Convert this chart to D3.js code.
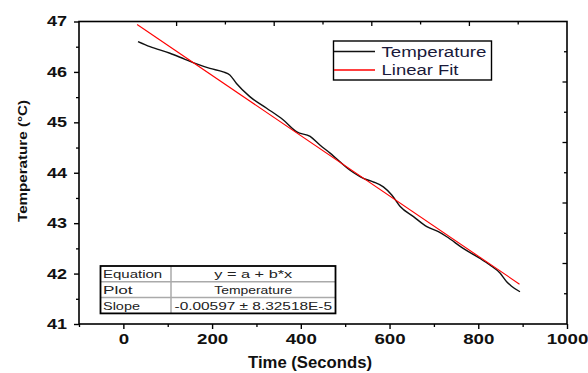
<!DOCTYPE html>
<html><head><meta charset="utf-8">
<script src="https://cdn.jsdelivr.net/npm/d3@7"></script>
<style>body{margin:0;background:#fff}svg{display:block}</style>
</head><body>
<svg id="c" width="588" height="373"></svg>
<script>
const timeS = [33,60,105,139,165,195,225,240,255,285,323,360,391,421,443,466,511,541,563,586,605,624,654,684,710,729,766,804,826,849,864,875,894];
const tempC = [46.60,46.50,46.37,46.25,46.16,46.07,46.00,45.94,45.77,45.51,45.28,45.05,44.81,44.72,44.55,44.39,44.05,43.89,43.82,43.72,43.56,43.33,43.13,42.93,42.83,42.73,42.50,42.30,42.17,42.01,41.84,41.75,41.64];
const fitX = [31, 893];
const fitY = [46.94, 41.79];
const xTicks = [0,200,400,600,800,1000];
const yTicks = [41,42,43,44,45,46,47];
const seriesNames = ["Temperature","Linear Fit"];
const tableRows = [["Equation","y = a + b*x"],["Plot","Temperature"],["Slope","-0.00597 \u00b1 8.32518E-5"]];

const svg = d3.select("#c");
const L=79,R=567,T=21.5,B=324;
const x = d3.scaleLinear().domain([-100,1000]).range([L,R]);
const y = d3.scaleLinear().domain([41,47]).range([B,T]);
const font = "'Liberation Sans', Arial, sans-serif";

// stretch text to a given width per character count (reference is horizontally stretched)
function stretch(sel, perChar){
  sel.each(function(){
    const t=d3.select(this); const s=t.text();
    t.attr("textLength", s.length*perChar).attr("lengthAdjust","spacingAndGlyphs");
  });
}

// frame
svg.append("rect").attr("x",L).attr("y",T).attr("width",R-L).attr("height",B-T)
  .attr("fill","none").attr("stroke","#000").attr("stroke-width",1.6);

// bottom axis
const gx = svg.append("g").attr("transform",`translate(0,${B})`)
  .call(d3.axisBottom(x).tickValues(xTicks).tickSize(5).tickPadding(4).tickFormat(d3.format("d")));
gx.select(".domain").remove();
gx.selectAll("line").attr("stroke-width",1.4);
gx.selectAll("text").attr("font-family",font).attr("font-weight","bold").attr("font-size",15).attr("fill","#111").call(stretch,10.4);
svg.append("g").attr("transform",`translate(0,${B})`)
  .call(d3.axisBottom(x).tickValues([-100,100,300,500,700,900]).tickSize(3).tickFormat(""))
  .call(g=>{g.select(".domain").remove();g.selectAll("line").attr("stroke-width",1.3);});

// left axis
const gy = svg.append("g").attr("transform",`translate(${L},0)`)
  .call(d3.axisLeft(y).tickValues(yTicks).tickSize(5).tickPadding(7).tickFormat(d3.format("d")));
gy.select(".domain").remove();
gy.selectAll("line").attr("stroke-width",1.4);
gy.selectAll("text").attr("font-family",font).attr("font-weight","bold").attr("font-size",14).attr("fill","#111").call(stretch,10);
svg.append("g").attr("transform",`translate(${L},0)`)
  .call(d3.axisLeft(y).tickValues([41.5,42.5,43.5,44.5,45.5,46.5]).tickSize(3).tickFormat(""))
  .call(g=>{g.select(".domain").remove();g.selectAll("line").attr("stroke-width",1.3);});

// top and right mirrored ticks (inward)
const tx = d3.scaleLinear().domain([0,10]).range([L,R]);
const ry = d3.scaleLinear().domain([0,10]).range([T,B]);
svg.append("g").selectAll("line").data(d3.range(2,10)).join("line")
  .attr("x1",d=>tx(d)).attr("x2",d=>tx(d)).attr("y1",T).attr("y2",d=>T+(d%2?3:4.5))
  .attr("stroke","#000").attr("stroke-width",1.3);
svg.append("g").selectAll("line").data(d3.range(1,10)).join("line")
  .attr("y1",d=>ry(d)).attr("y2",d=>ry(d)).attr("x1",R).attr("x2",d=>R-(d%2?3:4.5))
  .attr("stroke","#000").attr("stroke-width",1.3);

// axis titles
svg.append("text").attr("x",310).attr("y",368).attr("text-anchor","middle")
  .attr("font-family",font).attr("font-weight","bold").attr("font-size",16).attr("fill","#111")
  .attr("textLength",124).attr("lengthAdjust","spacingAndGlyphs")
  .text("Time (Seconds)");
svg.append("text").attr("transform","translate(27,161) rotate(-90)").attr("text-anchor","middle")
  .attr("font-family",font).attr("font-weight","bold").attr("font-size",13.5).attr("fill","#111")
  .attr("textLength",122).attr("lengthAdjust","spacingAndGlyphs")
  .text("Temperature (\u00b0C)");

// data line
const line = d3.line().x(d=>x(d[0])).y(d=>y(d[1])).curve(d3.curveMonotoneX);
svg.append("path").datum(d3.zip(timeS,tempC)).attr("d",line)
  .attr("fill","none").attr("stroke","#111").attr("stroke-width",1.4);
svg.append("path").datum(d3.zip(fitX,fitY)).attr("d",d3.line().x(d=>x(d[0])).y(d=>y(d[1])))
  .attr("fill","none").attr("stroke","#ff0000").attr("stroke-width",1.1);

// legend
const lg = svg.append("g");
lg.append("rect").attr("x",333.5).attr("y",41).attr("width",158).attr("height",39)
  .attr("fill","#fff").attr("stroke","#000").attr("stroke-width",1.4);
const legColors = ["#111","#ff0000"];
const legWidths = [105,77];
seriesNames.forEach((n,i)=>{
  const yy = 51.5 + i*18.5;
  lg.append("line").attr("x1",334).attr("x2",375).attr("y1",yy).attr("y2",yy)
    .attr("stroke",legColors[i]).attr("stroke-width",1.4);
  lg.append("text").attr("x",381.5).attr("y",yy+5).attr("font-family",font).attr("font-size",14)
    .attr("textLength",legWidths[i]).attr("lengthAdjust","spacingAndGlyphs")
    .attr("fill","#1a1a3a").text(n);
});

// stats table
const tb = svg.append("g");
const tL=100.5,tR=335.5,tT=266,rowH=15.8,colX=171;
tableRows.forEach((r,i)=>{
  const y0 = tT + i*rowH;
  if(i>0) tb.append("line").attr("x1",tL).attr("x2",tR).attr("y1",y0).attr("y2",y0).attr("stroke","#aaa").attr("stroke-width",1.5);
  tb.append("text").attr("x",tL+2.5).attr("y",y0+12).attr("font-family",font).attr("font-size",11.5).attr("fill","#222").text(r[0]).call(stretch,7.4);
  tb.append("text").attr("x",(colX+tR)/2).attr("y",y0+12).attr("text-anchor","middle").attr("font-family",font).attr("font-size",11.5).attr("fill","#222").text(r[1]).call(stretch, i===2?7.5:7.1);
});
tb.append("line").attr("x1",colX).attr("x2",colX).attr("y1",tT).attr("y2",tT+3*rowH).attr("stroke","#aaa").attr("stroke-width",1.5);
tb.append("rect").attr("x",tL).attr("y",tT).attr("width",tR-tL).attr("height",3*rowH)
  .attr("fill","none").attr("stroke","#000").attr("stroke-width",1.8);
</script>
</body></html>
